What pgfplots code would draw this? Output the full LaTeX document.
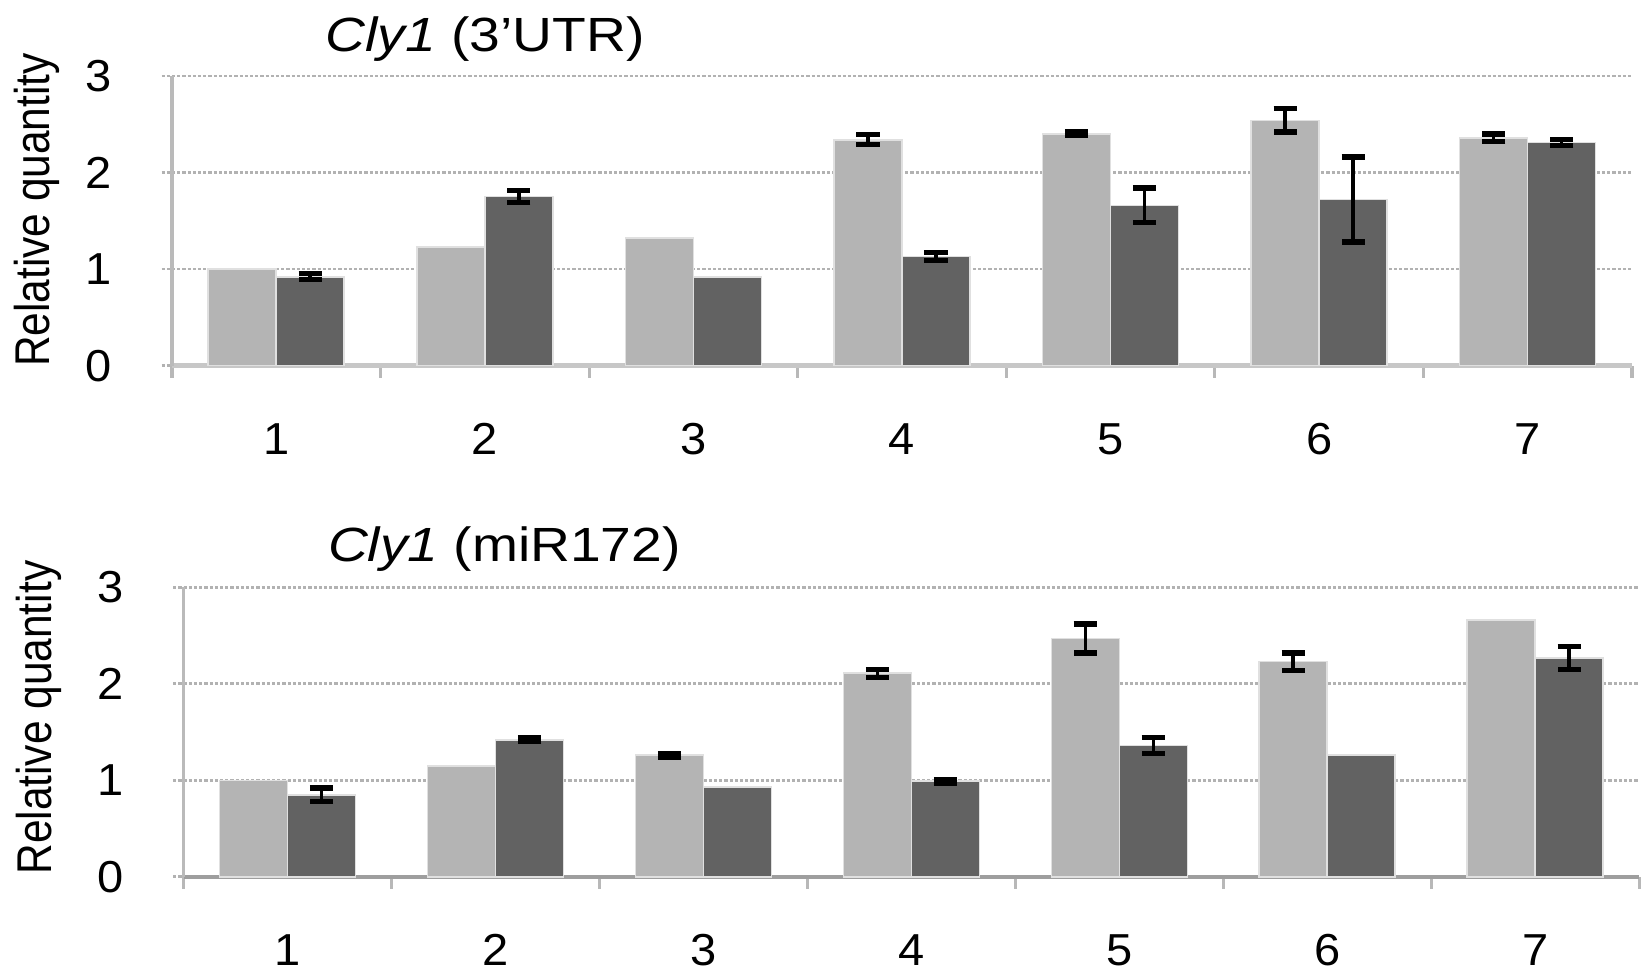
\documentclass[border=0pt]{standalone}
\usepackage{fontspec}
\setmainfont{Liberation Sans}[FakeStretch=1.15]
\newfontfamily\ylabfont{Liberation Sans}[FakeStretch=0.87]
\newfontfamily\tickfont{Liberation Sans}[FakeStretch=1.05]
\usepackage{pgfplots}
\pgfplotsset{compat=1.18}
\definecolor{lgray}{HTML}{B4B4B4}
\definecolor{dgray}{HTML}{626262}
\pgfplotsset{
  myaxis/.style={
    scale only axis,
    ymin=0, ymax=3, xmin=0.5, xmax=7.5,
    ytick={0,1,2,3}, xtick={1,...,7},
    minor xtick={0.5,1.5,...,7.5},
    axis lines*=left,
    ybar=0pt, bar width=17pt,
    ymajorgrids,
    major grid style={draw=black!30, line width=0.7pt, dash pattern=on 0.8pt off 0.5pt},
    tick align=outside,
    major tick length=2.6pt,
    minor tick length=3pt,
    major y tick style={draw=black!30, line width=0.7pt, dash pattern=on 0.8pt off 0.5pt},
    major x tick style={draw=none},
    minor x tick style={draw=black!28, line width=0.8pt},
    y axis line style={draw=black!27, line width=0.8pt},
    /pgf/number format/assume math mode=true,
    ticklabel style={font=\tickfont\fontsize{11.2}{13}\selectfont},
    xticklabel style={anchor=base, yshift=-19.7pt},
    yticklabel style={anchor=east, xshift=-8.9pt},
    clip=false,
  },
  lightbar/.style={fill=lgray, draw=black!12, line width=0.4pt, bar shift=-8.5pt},
  darkbar/.style={fill=dgray, draw=black!12, line width=0.4pt, bar shift=8.5pt},
  errl/.style={draw=none, fill=none, bar shift=-8.5pt, forget plot,
    error bars/.cd, y dir=both, y explicit,
    error bar style={draw=black, line width=0.9pt, solid},
    error mark options={rotate=90, mark size=2.9pt, line width=1.3pt, draw=black, solid}},
  errd/.style={draw=none, fill=none, bar shift=8.5pt, forget plot,
    error bars/.cd, y dir=both, y explicit,
    error bar style={draw=black, line width=0.9pt, solid},
    error mark options={rotate=90, mark size=2.9pt, line width=1.3pt, draw=black, solid}},
}
\begin{document}
\begin{tikzpicture}
\useasboundingbox (0,0) rectangle (410.75pt,-243.25pt);
% top panel
\begin{axis}[myaxis, width=365pt, height=72.4pt, anchor=south west, at={(43pt,-91.4pt)},
  x axis line style={draw=black!22, line width=1.3pt}]
\addplot[lightbar] coordinates {(1,1.00) (2,1.23) (3,1.32) (4,2.34) (5,2.40) (6,2.54) (7,2.36)};
\addplot[darkbar] coordinates {(1,0.92) (2,1.75) (3,0.92) (4,1.13) (5,1.66) (6,1.72) (7,2.31)};
\addplot[errl] coordinates {(4,2.34) +- (0,0.05) (5,2.40) +- (0,0.02) (6,2.54) +- (0,0.12) (7,2.36) +- (0,0.04)};
\addplot[errd] coordinates {(1,0.92) +- (0,0.03) (2,1.75) +- (0,0.06) (4,1.13) +- (0,0.04) (5,1.66) +- (0,0.18) (6,1.72) +- (0,0.44) (7,2.31) +- (0,0.03)};
\end{axis}
% bottom panel
\begin{axis}[myaxis, width=363.9pt, height=72.35pt, anchor=south west, at={(45.9pt,-219.2pt)},
  x axis line style={draw=black!38, line width=1pt}]
\addplot[lightbar] coordinates {(1,1.00) (2,1.15) (3,1.26) (4,2.11) (5,2.47) (6,2.23) (7,2.66)};
\addplot[darkbar] coordinates {(1,0.85) (2,1.42) (3,0.93) (4,0.99) (5,1.36) (6,1.26) (7,2.27)};
\addplot[errl] coordinates {(3,1.26) +- (0,0.02) (4,2.11) +- (0,0.04) (5,2.47) +- (0,0.15) (6,2.23) +- (0,0.09)};
\addplot[errd] coordinates {(1,0.85) +- (0,0.07) (2,1.42) +- (0,0.02) (4,0.99) +- (0,0.02) (5,1.36) +- (0,0.08) (7,2.27) +- (0,0.12)};
\end{axis}
\node[anchor=base, inner sep=0pt, font=\fontsize{12}{14}\selectfont] at (121.25pt,-13pt) {\textit{Cly1} (3'UTR)};
\node[anchor=base, inner sep=0pt, font=\fontsize{12}{14}\selectfont] at (126.1pt,-140.5pt) {\textit{Cly1} (miR172)};
\node[anchor=base, rotate=90, inner sep=0pt, font=\ylabfont\fontsize{12.2}{14}\selectfont] at (12.5pt,-52.5pt) {Relative quantity};
\node[anchor=base, rotate=90, inner sep=0pt, font=\ylabfont\fontsize{12.2}{14}\selectfont] at (12.75pt,-179.4pt) {Relative quantity};
\end{tikzpicture}
\end{document}
